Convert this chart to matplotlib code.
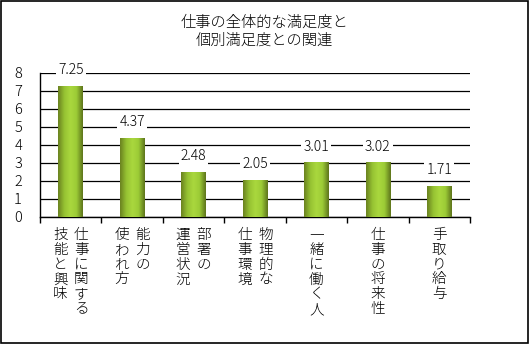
import numpy as np
import matplotlib
matplotlib.use("Agg")
import matplotlib.pyplot as plt
from matplotlib.colors import LinearSegmentedColormap

plt.rcParams['font.family'] = ['Noto Sans CJK JP', 'DejaVu Sans']

title = "仕事の全体的な満足度と\n個別満足度との関連"
# 縦書きラベル: (右の列, 左の列)
labels = [("仕事に関する", "技能と興味"),
          ("能力の", "使われ方"),
          ("部署の", "運営状況"),
          ("物理的な", "仕事環境"),
          ("一緒に働く人", ""),
          ("仕事の将来性", ""),
          ("手取り給与", "")]
values = [7.25, 4.37, 2.48, 2.05, 3.01, 3.02, 1.71]
yticks = [0, 1, 2, 3, 4, 5, 6, 7, 8]

fig = plt.figure(figsize=(5.29, 3.44), dpi=100)
ax = fig.add_axes([40 / 529, 1 - 217 / 344, 430 / 529, 144 / 344])

# 枠線
fig.patches.append(plt.Rectangle((0.001, 0.002), 0.997, 0.995, transform=fig.transFigure,
                                 fill=False, edgecolor='black', lw=1.2))

cmap = LinearSegmentedColormap.from_list("g", ["#6a8220", "#96c232", "#aad83e", "#9ccb36", "#5e741c"])
grad = np.linspace(0, 1, 64).reshape(1, -1)
w = 0.4
n = len(values)
for i, v in enumerate(values):
    ax.imshow(grad, cmap=cmap, aspect='auto', extent=(i + 0.5 - w / 2, i + 0.5 + w / 2, 0, v),
              zorder=3, interpolation='bicubic')
    ax.text(i + 0.5, v + 0.5, f"{v:.2f}", ha='center', va='bottom', fontsize=10,
            fontweight='light',
            bbox=dict(facecolor='white', edgecolor='none', pad=1.5), zorder=4)

ax.set_xlim(0, n)
ax.set_ylim(0, 8)
ax.set_yticks(yticks)
ax.yaxis.grid(True, color='black', lw=0.9)
ax.set_axisbelow(True)
ax.set_xticks(np.arange(0, n + 1))
ax.set_xticklabels([])
ax.tick_params(axis='x', direction='out', length=4, width=1)
ax.tick_params(axis='y', length=0, labelsize=10.5, pad=13)
for t in ax.get_yticklabels():
    t.set_fontweight('light')
for s in ['top', 'right']:
    ax.spines[s].set_visible(False)
for s in ['left', 'bottom']:
    ax.spines[s].set_linewidth(1)

# 縦書きのカテゴリ名
for i, (r, l) in enumerate(labels):
    if l:
        xs = [(i + 0.5 + 0.17, r), (i + 0.5 - 0.17, l)]
    else:
        xs = [(i + 0.5, r)]
    for x, t in xs:
        ax.text(x, -0.6, "\n".join(t), ha='center', va='top', fontsize=10.5,
                linespacing=1.08, fontweight='light')

fig.text(0.5, 0.955, title, ha='center', va='top', fontsize=11, linespacing=1.3,
         fontweight='light')

fig.savefig("out.png", dpi=100)
